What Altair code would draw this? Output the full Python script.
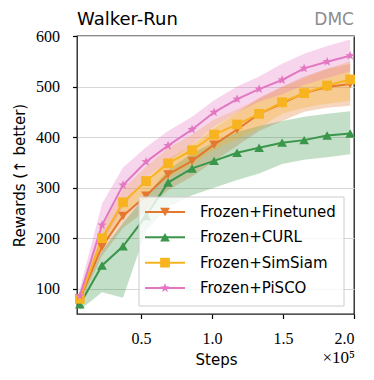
import math
import altair as alt
import pandas as pd

# ---------------- data (x in units of 1e5 steps) ----------------
steps = [0.07, 0.226, 0.374, 0.536, 0.691, 0.86, 1.015, 1.177, 1.332, 1.494, 1.649, 1.811, 1.973]
series_names = ["Frozen+Finetuned", "Frozen+CURL", "Frozen+SimSiam", "Frozen+PiSCO"]

finetuned_mean = [80, 183, 244, 284, 326, 353, 385, 415, 446, 467, 487, 499, 505]
finetuned_lo = [70, 165, 220, 255, 295, 322, 352, 383, 412, 432, 450, 458, 462]
finetuned_hi = [90, 205, 268, 312, 356, 384, 418, 448, 478, 500, 520, 535, 545]

curl_mean = [69, 146, 184, 244, 310, 338, 353, 369, 379, 389, 394, 403, 407]
curl_lo = [58, 93, 82, 215, 262, 285, 300, 315, 328, 347, 355, 360, 366]
curl_hi = [80, 175, 230, 285, 335, 368, 390, 410, 422, 432, 440, 446, 451]

simsiam_mean = [80, 200, 271, 313, 348, 374, 405, 425, 446, 469, 487, 502, 514]
simsiam_lo = [70, 180, 245, 285, 318, 345, 375, 396, 418, 446, 458, 466, 472]
simsiam_hi = [92, 222, 298, 342, 378, 405, 435, 455, 476, 498, 517, 535, 550]

pisco_mean = [86, 226, 305, 351, 383, 415, 449, 475, 495, 513, 536, 549, 561]
pisco_lo = [72, 190, 262, 318, 352, 385, 420, 448, 470, 485, 503, 517, 530]
pisco_hi = [100, 268, 340, 380, 412, 440, 473, 500, 520, 545, 565, 580, 593]

colors = ["#E3782E", "#3A964A", "#F8B320", "#E377C2"]

y_ticks = [100, 200, 300, 400, 500, 600]
x_ticks = [0.5, 1.0, 1.5, 2.0]

# ---------------- build tables ----------------
means = [finetuned_mean, curl_mean, simsiam_mean, pisco_mean]
los = [finetuned_lo, curl_lo, simsiam_lo, pisco_lo]
his = [finetuned_hi, curl_hi, simsiam_hi, pisco_hi]
rows = []
for name, m, lo, hi in zip(series_names, means, los, his):
    for s, a, b, c in zip(steps, m, lo, hi):
        rows.append({"step": s, "series": name, "mean": a, "lo": b, "hi": c})
df = pd.DataFrame(rows)
legend_df = pd.DataFrame({"series": series_names})


def star_path(R=1.0, r=0.42):
    pts = []
    for k in range(10):
        ang = -math.pi / 2 + k * math.pi / 5
        rad = R if k % 2 == 0 else r
        pts.append(f"{rad*math.cos(ang):.3f},{rad*math.sin(ang):.3f}")
    return "M" + "L".join(pts) + "Z"


marker_shapes = ["triangle-down", "triangle-up", "square", star_path()]
sizes = [95, 95, 100, 130]

W, H = 277, 278
SERIF = "Liberation Serif, DejaVu Serif, Times New Roman, serif"
xscale = alt.Scale(domain=[0.05, 2.0], nice=False, zero=False)
yscale = alt.Scale(domain=[50, 600], nice=False, zero=False)
cscale = alt.Scale(domain=series_names, range=colors)
shape_scale = alt.Scale(domain=series_names, range=marker_shapes)
size_scale = alt.Scale(domain=series_names, range=sizes)
legend_y = alt.Scale(type="point", domain=series_names, range=[176, 252], padding=0)

x_enc = alt.X("step:Q", scale=xscale, axis=alt.Axis(
    values=x_ticks, format=".1f", title="Steps", grid=False, domain=False,
    tickSize=4.5, tickColor="black", tickWidth=1.2,
    labelFont=SERIF, labelFontSize=16, labelColor="black", labelPadding=12,
    titleFont="DejaVu Sans", titleFontSize=15, titleFontWeight="normal", titleColor="black",
    titleX=139, titleY=50, titleBaseline="alphabetic", titleAlign="center"))
y_axis = alt.Axis(
    values=y_ticks, title="Rewards (↑ better)", grid=True, gridColor="#d6d6d6", gridWidth=1,
    domain=False, tickSize=4.5, tickColor="black", tickWidth=1.2,
    labelFont=SERIF, labelFontSize=16, labelColor="black", labelPadding=13,
    titleFont="DejaVu Sans", titleFontSize=15, titleFontWeight="normal", titleColor="black",
    titleX=-53, titleY=139, titleBaseline="alphabetic", titleAlign="center", titleAngle=270)

base = alt.Chart(df)
color_enc = alt.Color("series:N", scale=cscale, legend=None)

bands = base.mark_area(opacity=0.3).encode(
    x=x_enc,
    y=alt.Y("lo:Q", scale=yscale, axis=y_axis, stack=None),
    y2="hi:Q",
    color=color_enc,
)

lines = base.mark_line(strokeWidth=2).encode(
    x="step:Q",
    y=alt.Y("mean:Q", scale=yscale, axis=None),
    color=color_enc,
)

points = base.mark_point(filled=True, opacity=1).encode(
    x="step:Q",
    y=alt.Y("mean:Q", scale=yscale, axis=None),
    color=color_enc,
    shape=alt.Shape("series:N", scale=shape_scale, legend=None),
    size=alt.Size("series:N", scale=size_scale, legend=None),
)

# ---------------- legend frame (a wide white rule + four thin border rules) ----------------
ann = pd.DataFrame({"t": ["Walker-Run"]})
frame = alt.Chart(ann)
leg_fill = frame.mark_rule(color="white", opacity=0.8, strokeWidth=109, strokeCap="butt").encode(
    x=alt.value(62), x2=alt.value(267), y=alt.value(215.5))
leg_top = frame.mark_rule(color="#cccccc", strokeWidth=1).encode(
    x=alt.value(62), x2=alt.value(267), y=alt.value(161))
leg_bottom = frame.mark_rule(color="#cccccc", strokeWidth=1).encode(
    x=alt.value(62), x2=alt.value(267), y=alt.value(270))
leg_left = frame.mark_rule(color="#cccccc", strokeWidth=1).encode(
    x=alt.value(62), y=alt.value(161), y2=alt.value(270))
leg_right = frame.mark_rule(color="#cccccc", strokeWidth=1).encode(
    x=alt.value(267), y=alt.value(161), y2=alt.value(270))

leg_base = alt.Chart(legend_df)
leg_y = alt.Y("series:N", scale=legend_y, axis=None)
leg_lines = leg_base.mark_rule(strokeWidth=2).encode(
    x=alt.value(68), x2=alt.value(108), y=leg_y, color=color_enc)
leg_marks = leg_base.mark_point(filled=True, opacity=1).encode(
    x=alt.value(88), y=leg_y, color=color_enc,
    shape=alt.Shape("series:N", scale=shape_scale, legend=None),
    size=alt.Size("series:N", scale=size_scale, legend=None))
leg_text = leg_base.mark_text(
    align="left", baseline="middle", font="DejaVu Sans", fontSize=15, color="black"
).encode(x=alt.value(123), y=leg_y, text="series:N")

title_txt = alt.Chart(ann).mark_text(
    text="Walker-Run", align="left", baseline="alphabetic",
    font="DejaVu Sans", fontSize=18, color="black"
).encode(x=alt.value(0), y=alt.value(-11))
dmc_txt = alt.Chart(ann).mark_text(
    text="DMC", align="right", baseline="alphabetic",
    font="DejaVu Sans", fontSize=17, color="#8c8c8c"
).encode(x=alt.value(W), y=alt.value(-11))
exp_txt = alt.Chart(ann).mark_text(
    text="×10⁵", align="right", baseline="alphabetic",
    font=SERIF, fontSize=17, color="black"
).encode(x=alt.value(W + 1), y=alt.value(H + 49))

chart = alt.layer(
    bands, lines, points,
    leg_fill, leg_top, leg_bottom, leg_left, leg_right,
    leg_lines, leg_marks, leg_text,
    title_txt, dmc_txt, exp_txt
).resolve_scale(
    y="independent"
).properties(
    width=W, height=H,
    padding={"left": 69, "top": 28, "right": 12, "bottom": 60},
    autosize=alt.AutoSizeParams(type="none"),
).configure_view(
    stroke="#1a1a1a", strokeWidth=1.3
)

chart.save("out.html", embed_options={"renderer": "svg", "actions": False})
